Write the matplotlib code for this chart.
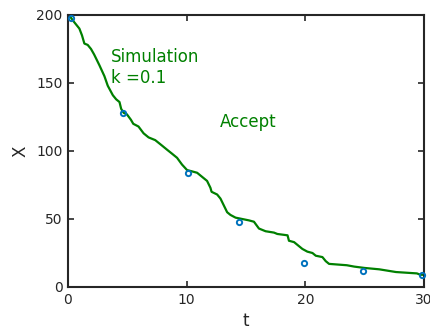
import matplotlib
matplotlib.use("Agg")
import matplotlib.pyplot as plt

# Stochastic simulation path (t, X)
sim_t = [0, 0.25, 0.5, 0.96, 1.18, 1.38, 1.66, 1.94, 2.2, 2.65, 3.07, 3.35, 3.78, 4.06,
         4.34, 4.48, 4.7, 4.96, 5.3, 5.5, 5.94, 6.37, 6.79, 7.35, 7.92, 8.34, 8.77, 9.19,
         9.61, 10.03, 10.46, 10.88, 11.3, 11.72, 12.0, 12.1, 12.57, 12.85, 13.13, 13.41,
         13.69, 14.12, 14.68, 15.24, 15.67, 16.09, 16.65, 17.36, 17.64, 18.5, 18.62, 19.05,
         19.33, 19.75, 20.17, 20.6, 20.88, 21.44, 21.72, 22.0, 23.5, 24.12, 25.0, 26.23,
         27.64, 29.4, 29.7, 30.0]
sim_x = [200, 198, 195, 190, 185, 179, 178, 175, 171, 163, 155, 148, 141, 138,
         136, 131, 128, 127, 123, 120, 118, 113, 110, 108, 104, 101, 98, 95,
         90, 86, 85, 84, 81, 78, 73, 70, 68, 65, 60, 55,
         53, 51, 50, 49, 48, 43, 41, 40, 39, 38, 34, 33,
         31, 28, 26, 25, 23, 22, 19, 17, 16, 15, 14, 13,
         11, 10, 9, 9]

# Measured data points
data_t = [0.25, 4.6, 10.1, 14.4, 19.9, 24.9, 29.85]
data_x = [198, 128, 84, 48, 18, 12, 8.5]

x_ticks = [0, 10, 20, 30]
y_ticks = [0, 50, 100, 150, 200]

green = '#008000'
blue = '#0072BD'
dark = '#262626'

fig = plt.figure(figsize=(4.31, 3.30), dpi=100)
ax = fig.add_axes([68/431, 1 - 287/330, (424-68)/431, (287-15)/330])

ax.plot(sim_t, sim_x, color=green, lw=1.6)
ax.plot(data_t, data_x, 'o', mfc='none', mec=blue, mew=1.4, ms=3.8, clip_on=False, zorder=3)

ax.text(3.6, 169, 'Simulation', color=green, fontsize=12, va='center', ha='left')
ax.text(3.6, 154, 'k =0.1', color=green, fontsize=12, va='center', ha='left')
ax.text(12.8, 121, 'Accept', color=green, fontsize=12, va='center', ha='left')

ax.set_xlim(0, 30)
ax.set_ylim(0, 200)
ax.set_xticks(x_ticks)
ax.set_yticks(y_ticks)
ax.tick_params(direction='in', top=True, right=True, length=4, width=1.2,
               labelsize=10, colors=dark, pad=4)
for s in ax.spines.values():
    s.set_linewidth(1.5)
    s.set_color(dark)
ax.set_xlabel('t', fontsize=12, color=dark, labelpad=4)
ax.set_ylabel('X', fontsize=12, color=dark, labelpad=5)

fig.savefig('out.png', dpi=100)
